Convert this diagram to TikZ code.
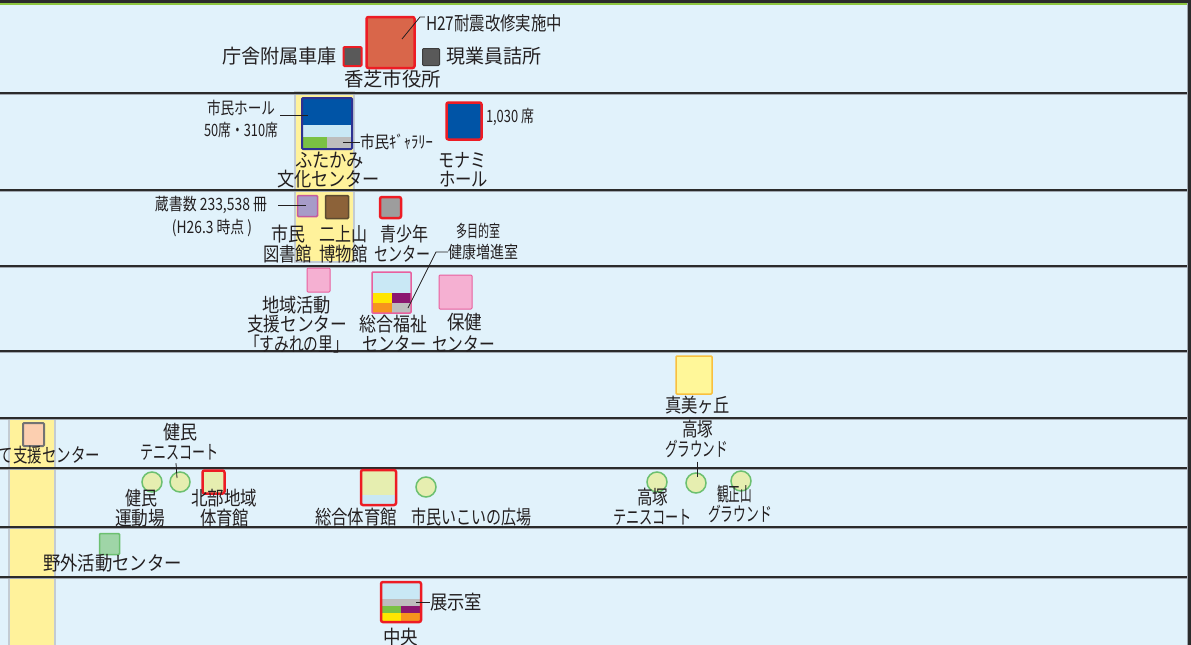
\documentclass[tikz,border=0pt]{standalone}
\usepackage{fontspec}
\setmainfont{Noto Sans CJK JP}
\usetikzlibrary{calc}
\definecolor{bg}{HTML}{E1F2FB}
\definecolor{rowline}{HTML}{2B2B2B}
\definecolor{rowshade}{HTML}{A0A8B0}
\definecolor{topgreen}{HTML}{8DC63F}
\definecolor{txt}{HTML}{231F20}
\definecolor{redb}{HTML}{ED1C24}
\definecolor{coral}{HTML}{D9664A}
\definecolor{darkgrey}{HTML}{595959}
\definecolor{darkb}{HTML}{3C3C3C}
\definecolor{navy}{HTML}{2E3192}
\definecolor{hallblue}{HTML}{0054A6}
\definecolor{paleblue}{HTML}{C9E8F5}
\definecolor{leafgreen}{HTML}{7AC143}
\definecolor{cellgrey}{HTML}{BDBDBD}
\definecolor{libpurple}{HTML}{A79BC8}
\definecolor{libborder}{HTML}{C45A9E}
\definecolor{brownf}{HTML}{8C6239}
\definecolor{brownb}{HTML}{5C4A30}
\definecolor{midgrey}{HTML}{9D9D9D}
\definecolor{pinkfill}{HTML}{F5B0D2}
\definecolor{pinkb}{HTML}{E8609E}
\definecolor{cyellow}{HTML}{FFE600}
\definecolor{cpurple}{HTML}{8B1770}
\definecolor{corange}{HTML}{F7941D}
\definecolor{lemon}{HTML}{FFF799}
\definecolor{lemonb}{HTML}{F9C03F}
\definecolor{peach}{HTML}{FCCFB0}
\definecolor{peachb}{HTML}{737373}
\definecolor{sportfill}{HTML}{E6EEB0}
\definecolor{sportb}{HTML}{6CC070}
\definecolor{outdoorf}{HTML}{9FD5A7}
\definecolor{stripfill}{HTML}{FFF29B}
\definecolor{stripb}{HTML}{C3CBD3}
\newcommand\fw[2]{\resizebox{#1pt}{\height}{#2}}
\tikzset{
  lab/.style={inner sep=0pt, text=txt, font=\fontsize{19.5}{18}\selectfont},
  ann/.style={inner sep=0pt, text=txt, font=\fontsize{17}{16}\selectfont},
  annbig/.style={inner sep=0pt, text=txt, font=\fontsize{19}{18}\selectfont},
  facility/.style={rectangle, inner sep=0pt, rounded corners=1pt},
  redframe/.style={facility, draw=redb, line width=2.5pt, rounded corners=2pt},
  sportcirc/.style={circle, inner sep=0pt, minimum size=20pt, fill=sportfill, draw=sportb, line width=1.5pt},
  leader/.style={draw=txt, line width=0.8pt},
  rowsep/.style={draw=rowline, line width=2pt},
  rowshadow/.style={draw=rowshade, line width=1pt},
  strip/.style={fill=stripfill, draw=stripb, line width=2pt}
}
\begin{document}
\begin{tikzpicture}[x=1pt,y=-1pt]
\useasboundingbox (0,0) rectangle (1191,645);
\clip (0,0) rectangle (1191,645);
\fill[bg] (0,0) rectangle (1191,645);
% strips
\path[strip] (295,92) rectangle (354,262);
\path[strip] (9,418) rectangle (55,650);
% row separators
\foreach \yy in {93,190,266,351,418,468,527,577}{
  \draw[rowshadow] (0,\yy+1.6) -- (1188,\yy+1.6);
  \draw[rowsep] (0,\yy) -- (1188,\yy);
}
% top and right border
\fill[rowline] (0,0) rectangle (1191,3.3);
\fill[topgreen] (0,3.3) rectangle (1188,5);
\fill[rowshade] (1186.8,3.3) rectangle (1188.3,645);
\fill[rowline] (1188.3,0) rectangle (1191,645);

% ---------- row 1 ----------
\node[redframe, fill=coral, minimum width=48pt, minimum height=51pt] (cityhall) at (390.5,42.5) {};
\node[facility, fill=darkgrey, draw=redb, line width=2pt, minimum width=18pt, minimum height=19pt] (garage) at (352.5,56.5) {};
\node[facility, fill=darkgrey, draw=darkb, line width=1pt, minimum width=17pt, minimum height=17pt] (workers) at (431,57) {};
\node[lab] (lbGarage) at (279.5,56) {\fw{115}{庁舎附属車庫}};
\node[lab] (lbWorkers) at (493.5,56) {\fw{95}{現業員詰所}};
\node[lab] (lbCity) at (392.5,79) {\fw{97}{香芝市役所}};
\node[annbig] (lbH27) at (494,23) {\fw{136}{H27耐震改修実施中}};
\coordinate (h27a) at (402,39);
\coordinate (h27b) at (420,17);
\draw[leader] (h27a) -- (h27b) -- ($(lbH27.west)+(-1,-6)$);

% ---------- row 2 ----------
\fill[hallblue] (302,98) rectangle (352,125);
\fill[paleblue] (302,125) rectangle (352,137);
\fill[leafgreen] (302,137) rectangle (327,149);
\fill[cellgrey] (327,137) rectangle (352,149);
\node[facility, draw=navy, line width=2pt, minimum width=50pt, minimum height=51pt] (futakami) at (327,123.5) {};
\node[redframe, fill=hallblue, minimum width=35pt, minimum height=37pt] (monami) at (464,121) {};
\node[ann] (lbHall1) at (241,108) {\fw{68}{市民ホール}};
\node[ann] (lbHall2) at (241,130) {\fw{74}{50席・310席}};
\node[ann] (lbGallery) at (396.5,142) {\fw{73}{市民ｷﾞｬﾗﾘｰ}};
\node[lab] (lbFut1) at (329.5,160) {\fw{69}{ふたかみ}};
\node[lab] (lbFut2) at (328.5,179.5) {\fw{103}{文化センター}};
\node[ann] (lbSeats) at (510,117) {\fw{48}{1,030 席}};
\node[lab] (lbMon1) at (462,160) {\fw{48}{モナミ}};
\node[lab] (lbMon2) at (463.5,179.5) {\fw{49}{ホール}};
\coordinate (hallA) at (280,115);
\coordinate (hallB) at (308,115);
\draw[leader] (hallA) -- (hallB);
\coordinate (galA) at (343,142);
\draw[leader] (galA) -- (lbGallery.west);

% ---------- row 3 ----------
\node[facility, fill=libpurple, draw=libborder, line width=1.5pt, minimum width=20pt, minimum height=21pt] (library) at (307.5,206) {};
\node[facility, fill=brownf, draw=brownb, line width=1.5pt, minimum width=23pt, minimum height=23pt] (museum) at (337,207) {};
\node[facility, fill=midgrey, draw=redb, line width=2.5pt, rounded corners=2pt, minimum width=21pt, minimum height=21pt] (youth) at (390.5,207.5) {};
\node[ann] (lbBooks1) at (211,205) {\fw{112}{蔵書数 233,538 冊}};
\node[ann] (lbBooks2) at (212,228) {\fw{80}{(H26.3 時点 )}};
\coordinate (booksA) at (278,205);
\coordinate (booksB) at (306,205);
\draw[leader] (booksA) -- (booksB);
\node[lab] (lbLib1) at (288,234.2) {\fw{34}{市民}};
\node[lab] (lbLib2) at (287.5,253.8) {\fw{49}{図書館}};
\node[lab] (lbMus1) at (343,234.2) {\fw{48}{二上山}};
\node[lab] (lbMus2) at (343.5,253.8) {\fw{49}{博物館}};
\node[lab] (lbYouth1) at (404,234.2) {\fw{48}{青少年}};
\node[lab] (lbYouth2) at (402,253.8) {\fw{56}{センター}};
\node[ann] (lbMulti1) at (478,231.5) {\fw{44}{多目的室}};
\node[ann] (lbMulti2) at (483,252) {\fw{70}{健康増進室}};

% ---------- row 4 ----------
\node[facility, fill=pinkfill, draw=pinkb, line width=1pt, minimum width=23pt, minimum height=24pt] (areaSupport) at (318.5,280) {};
\fill[paleblue] (372,272) rectangle (411,293);
\fill[cyellow] (372,293) rectangle (392,303);
\fill[cpurple] (392,293) rectangle (411,303);
\fill[corange] (372,303) rectangle (392,313);
\fill[cellgrey] (392,303) rectangle (411,313);
\node[facility, draw=pinkb, line width=1.5pt, minimum width=39pt, minimum height=41pt] (welfare) at (391.5,292.5) {};
\node[facility, fill=pinkfill, draw=pinkb, line width=1pt, minimum width=33pt, minimum height=34pt] (health) at (455.5,292) {};
\coordinate (multiA) at (408,308);
\coordinate (multiB) at (436,252);
\draw[leader] (multiA) -- (multiB) -- (lbMulti2.west);
\node[lab] (lbArea1) at (296.5,305) {\fw{69}{地域活動}};
\node[lab] (lbArea2) at (297,324.5) {\fw{100}{支援センター}};
\node[lab] (lbArea3) at (296.5,344) {\fw{103}{「すみれの里」}};
\node[lab] (lbWel1) at (393,324.5) {\fw{68}{総合福祉}};
\node[lab] (lbWel2) at (394.5,344) {\fw{65}{センター}};
\node[lab] (lbHealth1) at (464.5,322) {\fw{35}{保健}};
\node[lab] (lbHealth2) at (463.5,344) {\fw{63}{センター}};

% ---------- row 5 ----------
\node[facility, fill=lemon, draw=lemonb, line width=1.5pt, minimum width=36pt, minimum height=38pt] (mami) at (694,375) {};
\node[lab] (lbMami) at (697.5,405) {\fw{65}{真美ヶ丘}};

% ---------- row 6 ----------
\node[facility, fill=peach, draw=peachb, line width=2pt, minimum width=21pt, minimum height=23pt] (childcare) at (33.5,434.5) {};
\node[lab] (lbChild) at (35,455) {\fw{130}{子育て支援センター}};
\node[lab] (lbKenT1) at (180,432.5) {\fw{34}{健民}};
\node[lab] (lbKenT2) at (179,452) {\fw{78}{テニスコート}};
\node[lab] (lbTakaG1) at (697.5,429) {\fw{31}{高塚}};
\node[lab] (lbTakaG2) at (696.5,448.5) {\fw{63}{グラウンド}};

% ---------- row 7 ----------
\node[sportcirc] (kenminField) at (152,482) {};
\node[sportcirc] (kenminTennis) at (180,482) {};
\node[redframe, fill=sportfill, minimum width=22pt, minimum height=23pt] (hokubu) at (213.5,482) {};
\fill[sportfill] (361,470) rectangle (396,495);
\fill[paleblue] (361,495) rectangle (396,505);
\node[redframe, minimum width=35pt, minimum height=35pt] (gym) at (378.5,487.5) {};
\node[sportcirc] (plaza) at (426,487) {};
\node[sportcirc] (takaTennis) at (657,482) {};
\node[sportcirc] (takaGround) at (696,483) {};
\node[sportcirc] (kansho) at (741,481) {};
\draw[leader] ($(lbKenT2.south)+(-3,3)$) -- ($(kenminTennis.center)+(-3,-4)$);
\draw[leader] ($(lbTakaG2.south)+(0.5,4)$) -- ($(takaGround.center)+(1,-6)$);
\node[lab] (lbKenU1) at (141,498) {\fw{32}{健民}};
\node[lab] (lbKenU2) at (140,518) {\fw{50}{運動場}};
\node[lab] (lbHoku1) at (224,498) {\fw{66}{北部地域}};
\node[lab] (lbHoku2) at (224.5,518) {\fw{49}{体育館}};
\node[lab] (lbGym) at (356,517) {\fw{82}{総合体育館}};
\node[lab] (lbPlaza) at (471,517) {\fw{120}{市民いこいの広場}};
\node[lab] (lbTakaT1) at (652.5,497.5) {\fw{31}{高塚}};
\node[lab] (lbTakaT2) at (652.5,517) {\fw{79}{テニスコート}};
\node[lab] (lbKan1) at (734.5,494) {\fw{35}{観正山}};
\node[lab] (lbKan2) at (740,513.5) {\fw{64}{グラウンド}};

% ---------- row 8 ----------
\node[facility, fill=outdoorf, draw=sportb, line width=1.5pt, minimum width=20pt, minimum height=21pt] (outdoor) at (109.5,544) {};
\node[lab] (lbOut) at (112.5,563) {\fw{139}{野外活動センター}};

% ---------- row 9 ----------
\fill[paleblue] (381,582) rectangle (421,599);
\fill[cellgrey] (381,599) rectangle (421,606);
\fill[leafgreen] (381,606) rectangle (401,613);
\fill[cpurple] (401,606) rectangle (421,613);
\fill[cyellow] (381,613) rectangle (401,622);
\fill[corange] (401,613) rectangle (421,622);
\node[redframe, minimum width=40pt, minimum height=40pt] (chuo) at (401,602) {};
\node[lab] (lbExhibit) at (456,602) {\fw{52}{展示室}};
\coordinate (exhA) at (416,602);
\draw[leader] (exhA) -- (lbExhibit.west);
\node[lab] (lbCenter) at (400.5,637) {\fw{35}{中央}};
\end{tikzpicture}
\end{document}
